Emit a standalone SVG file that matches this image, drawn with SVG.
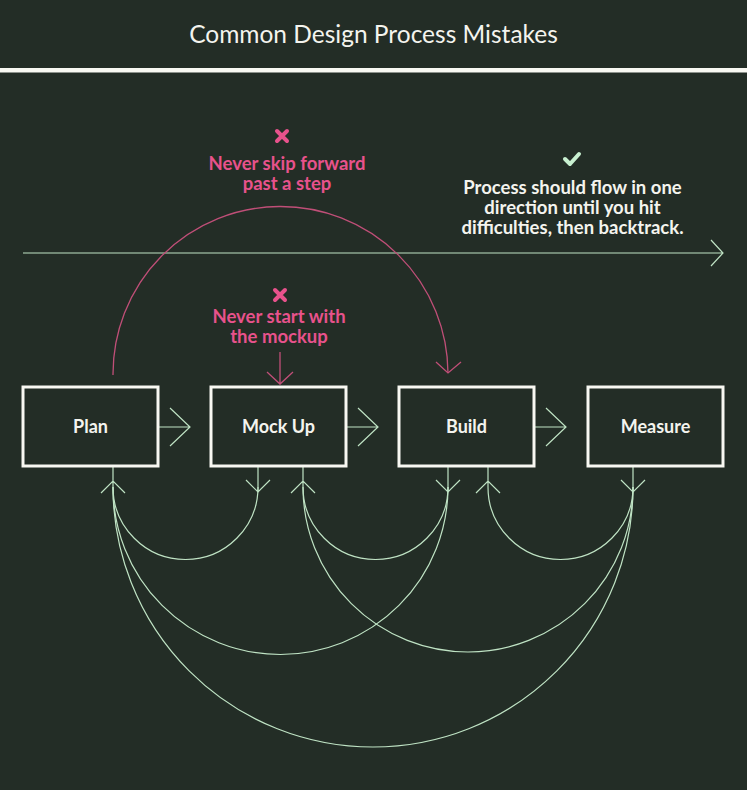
<svg xmlns="http://www.w3.org/2000/svg" width="747" height="790" viewBox="0 0 747 790">
<style>
.bg{fill:#232d26}
.title{font-family:Lato,"Liberation Sans",sans-serif;font-size:24.5px;fill:#f4f4ee;text-anchor:middle}
.box{fill:#232d26;stroke:#f8f8f2;stroke-width:3}
.lbl{font-family:Lato,"Liberation Sans",sans-serif;font-weight:bold;font-size:18px;fill:#f4f4ee;text-anchor:middle}
.pinkt{font-family:Lato,"Liberation Sans",sans-serif;font-weight:bold;font-size:18.5px;fill:#e8528c;text-anchor:middle}
.note{font-family:Lato,"Liberation Sans",sans-serif;font-weight:bold;font-size:18.5px;fill:#f4f4ee;text-anchor:middle}
.g{fill:none;stroke:#bfe3c4;stroke-width:1.2}
.p{fill:none;stroke:#c04f78;stroke-width:1.3}
</style>
<rect class="bg" x="0" y="0" width="747" height="790"/>
<rect x="0" y="68" width="747" height="4.5" fill="#f8f8f2"/>
<text class="title" x="373.5" y="43">Common Design Process Mistakes</text>

<g id="connectors">
  <path class="g" d="M23 253 H723 M711 240 L723 253 L711 266"/>
  <path class="g" d="M158 427 H190 M170 408 L190 427 L170 446"/>
  <path class="g" d="M347 427 H378 M358 408 L378 427 L358 446"/>
  <path class="g" d="M535 427 H566 M546 408 L566 427 L546 446"/>
  <path class="p" d="M280 352 V384 M267 372 L280 384 L293 372"/>
  <path class="p" d="M113 375 A167.5 167.5 0 0 1 448 373"/>
  <path class="p" d="M436 362 L448 373 L461 362"/>
  <path class="g" d="M113 466 V487 M101 493 L113 481 L125 493"/>
  <path class="g" d="M258 466 V492 M246 480 L258 492 L270 480"/>
  <path class="g" d="M303 466 V487 M291 493 L303 481 L315 493"/>
  <path class="g" d="M448 466 V492 M436 480 L448 492 L460 480"/>
  <path class="g" d="M488 466 V487 M476 493 L488 481 L500 493"/>
  <path class="g" d="M633 466 V492 M621 480 L633 492 L645 480"/>
  <path class="g" d="M258 487 A72.5 72.5 0 0 1 113 487"/>
  <path class="g" d="M448 487 A72.5 72.5 0 0 1 303 487"/>
  <path class="g" d="M633 487 A72.5 72.5 0 0 1 488 487"/>
  <path class="g" d="M448 487 A167.5 167.5 0 0 1 113 487"/>
  <path class="g" d="M633 487 A165 165 0 0 1 303 487"/>
  <path class="g" d="M633 487 A260 260 0 0 1 113 487"/>
</g>

<g id="node-plan">
  <rect class="box" x="23" y="387" width="135" height="79"/>
  <text class="lbl" x="90.5" y="433">Plan</text>
</g>
<g id="node-mockup">
  <rect class="box" x="211" y="387" width="135" height="79"/>
  <text class="lbl" x="278.5" y="433">Mock Up</text>
</g>
<g id="node-build">
  <rect class="box" x="399" y="387" width="135" height="79"/>
  <text class="lbl" x="466.5" y="433">Build</text>
</g>
<g id="node-measure">
  <rect class="box" x="588" y="387" width="135" height="79"/>
  <text class="lbl" x="655.5" y="433">Measure</text>
</g>

<g id="note-skip">
  <path d="M277 131 L287 141 M287 131 L277 141" stroke="#e8528c" stroke-width="4" stroke-linecap="round"/>
  <text class="pinkt" x="287" y="170">Never skip forward<tspan x="287" dy="20">past a step</tspan></text>
</g>
<g id="note-mockup">
  <path d="M275 290 L285 300 M285 290 L275 300" stroke="#e8528c" stroke-width="4" stroke-linecap="round"/>
  <text class="pinkt" x="279" y="323">Never start with<tspan x="279" dy="20">the mockup</tspan></text>
</g>
<g id="note-flow">
  <path d="M565 159 L570 164 L579 154" fill="none" stroke="#c8f0d0" stroke-width="4" stroke-linecap="round" stroke-linejoin="round"/>
  <text class="note" x="572.5" y="194">Process should flow in one<tspan x="572.5" dy="20">direction until you hit</tspan><tspan x="572.5" dy="20">difficulties, then backtrack.</tspan></text>
</g>
</svg>
